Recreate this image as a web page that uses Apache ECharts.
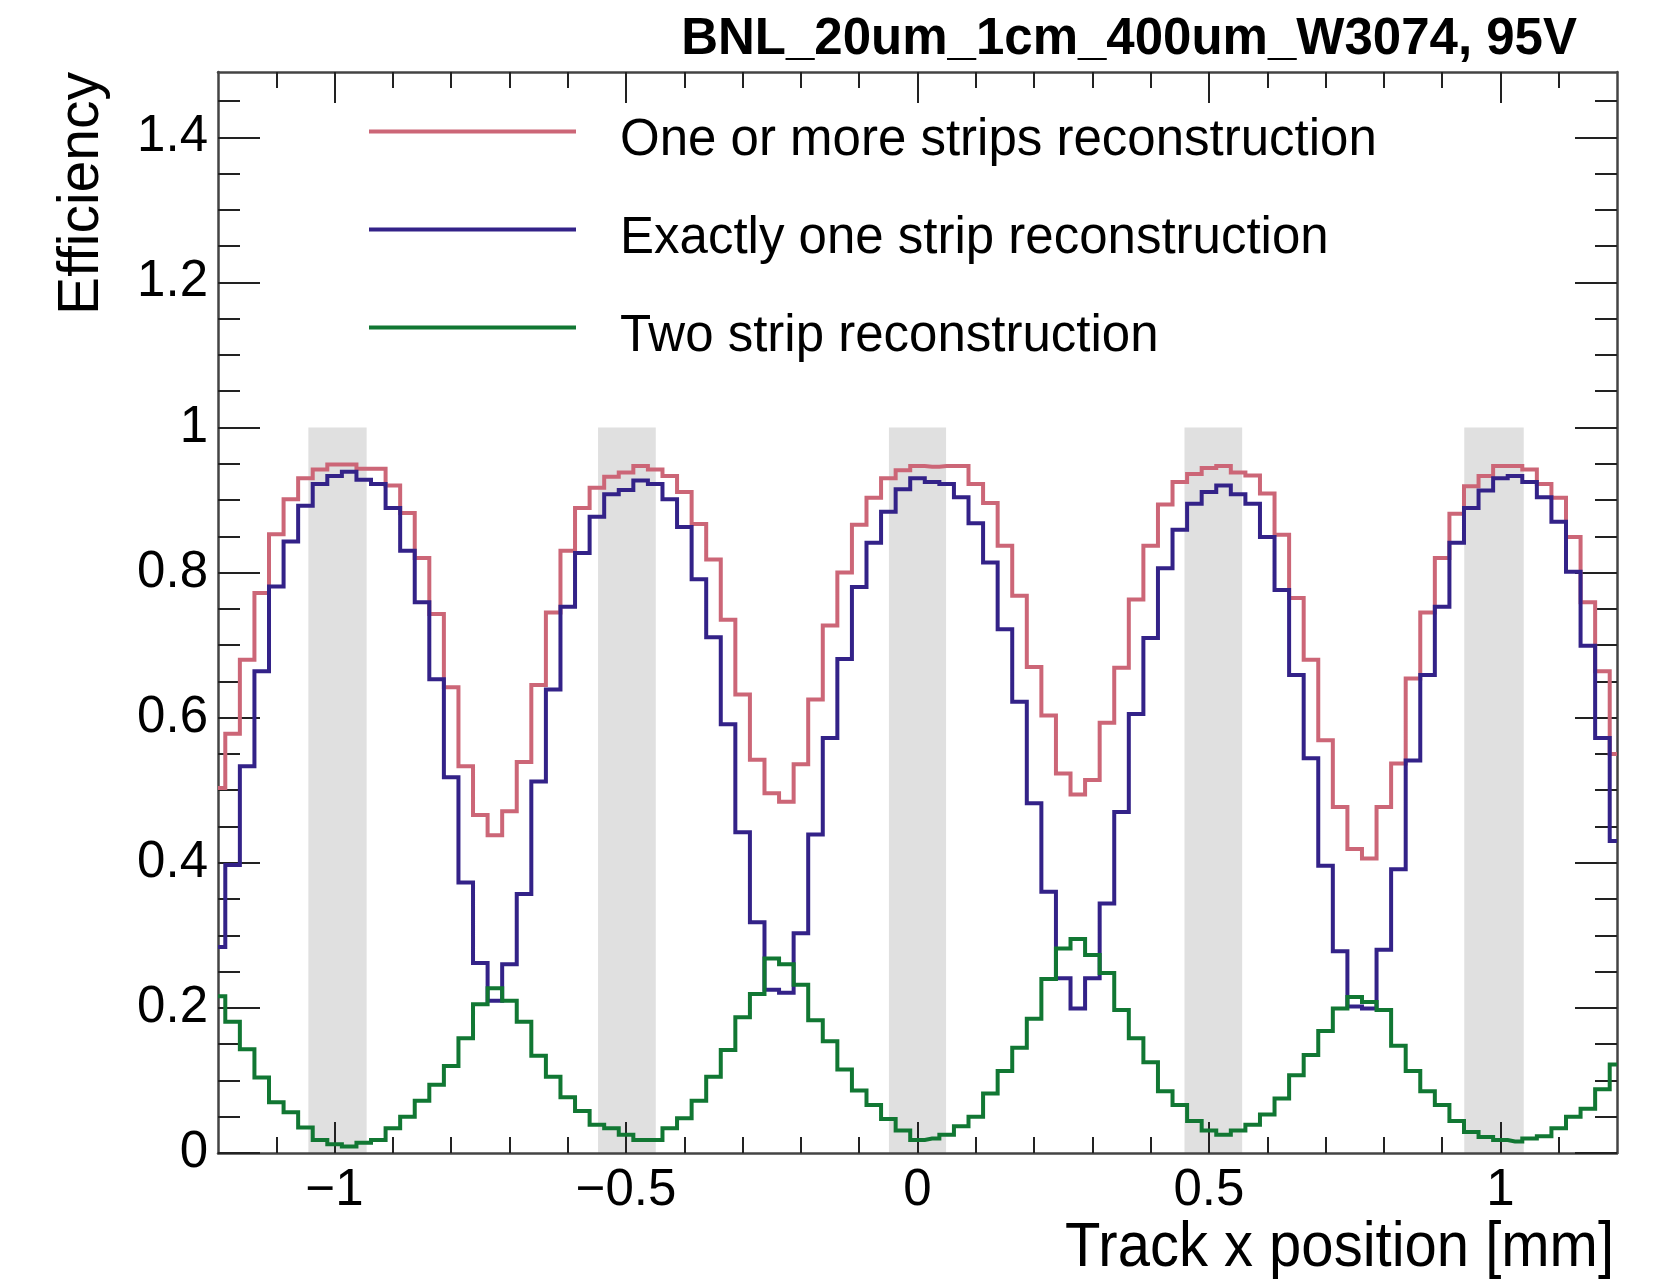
<!DOCTYPE html>
<html>
<head>
<meta charset="utf-8">
<script src="https://cdn.jsdelivr.net/npm/echarts@6/dist/echarts.min.js"></script>
<style>
  html, body { margin: 0; padding: 0; background: #ffffff; }
  #chart { width: 1654px; height: 1280px; }
</style>
</head>
<body>
<div id="chart"></div>
<script>
// Histogram binning: 97 bins of 0.025 mm, centred on -1.2 ... 1.2 mm
const binWidth = 0.025;
const firstBinCenter = -1.2;
const nBins = 97;
const binCenters = Array.from({ length: nBins }, (_, i) => +(firstBinCenter + i * binWidth).toFixed(4));

// Efficiency per bin
const oneOrMore = [
  0.503, 0.578, 0.680, 0.772, 0.853, 0.901, 0.930, 0.942, 0.949, 0.949, 0.943, 0.943, 0.920, 0.882, 0.820, 0.743, 0.642,
  0.533, 0.466, 0.438, 0.471, 0.539, 0.645, 0.745, 0.830, 0.889, 0.917, 0.932, 0.938, 0.947, 0.942, 0.933, 0.911, 0.867,
  0.818, 0.735, 0.632, 0.542, 0.496, 0.484, 0.536, 0.625, 0.727, 0.800, 0.866, 0.903, 0.930, 0.941, 0.947, 0.946,
  0.947, 0.947, 0.922, 0.896, 0.837, 0.768, 0.670, 0.603, 0.523, 0.494, 0.514, 0.593, 0.669, 0.763, 0.837, 0.894, 0.925,
  0.936, 0.944, 0.947, 0.938, 0.934, 0.909, 0.852, 0.765, 0.680, 0.569, 0.477, 0.419, 0.406, 0.477, 0.537, 0.654,
  0.745, 0.820, 0.881, 0.919, 0.933, 0.947, 0.947, 0.942, 0.922, 0.903, 0.849, 0.759, 0.664, 0.550
];
const exactlyOne = [
  0.284, 0.397, 0.533, 0.664, 0.781, 0.843, 0.892, 0.922, 0.933, 0.939, 0.928, 0.922, 0.889, 0.830, 0.759, 0.653, 0.518,
  0.373, 0.262, 0.210, 0.260, 0.357, 0.512, 0.639, 0.753, 0.827, 0.877, 0.908, 0.914, 0.927, 0.922, 0.901, 0.863, 0.791,
  0.711, 0.591, 0.442, 0.318, 0.225, 0.221, 0.303, 0.439, 0.572, 0.681, 0.780, 0.841, 0.884, 0.915, 0.930, 0.925,
  0.922, 0.904, 0.868, 0.814, 0.722, 0.622, 0.482, 0.360, 0.241, 0.199, 0.241, 0.344, 0.470, 0.605, 0.710, 0.806, 0.859,
  0.895, 0.911, 0.920, 0.908, 0.895, 0.849, 0.776, 0.659, 0.544, 0.396, 0.278, 0.202, 0.199, 0.280, 0.391, 0.541,
  0.659, 0.753, 0.841, 0.889, 0.913, 0.930, 0.933, 0.925, 0.904, 0.870, 0.801, 0.699, 0.572, 0.430
];
const twoStrip = [
  0.216, 0.181, 0.143, 0.104, 0.070, 0.056, 0.035, 0.018, 0.012, 0.009, 0.014, 0.018, 0.034, 0.050, 0.072, 0.094, 0.120,
  0.158, 0.205, 0.227, 0.210, 0.181, 0.134, 0.105, 0.077, 0.058, 0.039, 0.034, 0.025, 0.018, 0.018, 0.034, 0.048, 0.072,
  0.105, 0.142, 0.187, 0.219, 0.268, 0.260, 0.232, 0.183, 0.154, 0.115, 0.086, 0.066, 0.047, 0.031, 0.018, 0.020,
  0.025, 0.037, 0.050, 0.082, 0.113, 0.145, 0.185, 0.240, 0.282, 0.295, 0.273, 0.248, 0.197, 0.158, 0.125, 0.085, 0.066,
  0.044, 0.031, 0.025, 0.031, 0.039, 0.053, 0.075, 0.107, 0.135, 0.168, 0.199, 0.215, 0.208, 0.197, 0.148, 0.113,
  0.085, 0.066, 0.044, 0.029, 0.022, 0.018, 0.016, 0.020, 0.023, 0.034, 0.050, 0.061, 0.088, 0.122
];

// Metal strip positions [mm], drawn as grey bands up to efficiency 1
const stripLow  = [-1.045, -0.548, -0.049, 0.458, 0.938];
const stripHigh = [-0.945, -0.449,  0.049, 0.557, 1.040];

const seriesNames = [
  'One or more strips reconstruction',
  'Exactly one strip reconstruction',
  'Two strip reconstruction'
];
const seriesColors = ['#cc6677', '#332288', '#117733'];

// Axis ticks
const xMajorTicks = [-1, -0.5, 0, 0.5, 1];
const yMajorTicks = [0, 0.2, 0.4, 0.6, 0.8, 1, 1.2, 1.4];
const xMinorTicks = [];
for (let k = -11; k <= 11; k++) xMinorTicks.push(+(k / 10).toFixed(2));
const yMinorTicks = [];
for (let k = 1; k <= 29; k++) yMinorTicks.push(+(k * 0.05).toFixed(2));

const xMin = -1.2, xMax = 1.2, yMin = 0, yMax = 1.49;
const FONT = '"Liberation Sans", Arial, Helvetica, sans-serif';
const frameColor = '#444444';
const tickColor = '#222222';

// Legend key: a 4 px bar along the top of a 207 x 23 box, so the label sits slightly below it
const legendKeyIcon = 'path://M0,0L207,0L207,4L0,4Z M0,23L0.05,23L0.05,22.95Z';

function xAxisCfg(position, ticks, tickLen, withLabels, withLine) {
  return {
    type: 'value', position: position, min: xMin, max: xMax, z: 2,
    axisLine: { show: withLine, onZero: false, lineStyle: { color: frameColor, width: 2.5 } },
    axisTick: { show: true, inside: true, length: tickLen, customValues: ticks,
                lineStyle: { color: tickColor, width: 2 } },
    axisLabel: withLabels ? {
      show: true, customValues: xMajorTicks, margin: 12,
      fontSize: 51, fontFamily: FONT, color: '#000',
      formatter: v => (v < 0 ? '\u2212' + Math.abs(v) : String(v))
    } : { show: false },
    splitLine: { show: false },
    minorTick: { show: false }
  };
}
function yAxisCfg(position, ticks, tickLen, withLabels, withLine) {
  return {
    type: 'value', position: position, min: yMin, max: yMax, z: 2,
    axisLine: { show: withLine, onZero: false, lineStyle: { color: frameColor, width: 2.5 } },
    axisTick: { show: true, inside: true, length: tickLen, customValues: ticks,
                lineStyle: { color: tickColor, width: 2 } },
    axisLabel: withLabels ? {
      show: true, customValues: yMajorTicks, margin: 10,
      fontSize: 51, fontFamily: FONT, color: '#000',
      formatter: v => String(+v.toFixed(2))
    } : { show: false },
    splitLine: { show: false },
    minorTick: { show: false }
  };
}

const histSeries = [oneOrMore, exactlyOne, twoStrip].map((vals, s) => ({
  name: seriesNames[s],
  type: 'line',
  step: 'middle',
  xAxisIndex: 0, yAxisIndex: 0,
  showSymbol: false,
  symbol: 'none',
  z: 3,
  silent: true,
  color: seriesColors[s],
  itemStyle: { color: seriesColors[s] },
  lineStyle: { color: seriesColors[s], width: 4, join: 'miter', cap: 'butt' },
  data: binCenters.map((x, i) => [x, vals[i]])
}));

const chart = echarts.init(document.getElementById('chart'), null, { renderer: 'canvas' });
chart.setOption({
  animation: false,
  backgroundColor: '#ffffff',
  grid: { left: 218, right: 37, top: 72, bottom: 127, containLabel: false },
  xAxis: [
    xAxisCfg('bottom', xMajorTicks, 31, true, true),
    xAxisCfg('bottom', xMinorTicks, 16, false, false),
    xAxisCfg('top', xMajorTicks, 31, false, true),
    xAxisCfg('top', xMinorTicks, 16, false, false)
  ],
  yAxis: [
    yAxisCfg('left', yMajorTicks, 42, true, true),
    yAxisCfg('left', yMinorTicks, 22, false, false),
    yAxisCfg('right', yMajorTicks, 42, false, true),
    yAxisCfg('right', yMinorTicks, 22, false, false)
  ],
  legend: {
    data: seriesNames,
    orient: 'vertical',
    left: 369, top: 111,
    padding: 0,
    itemGap: 38,
    itemWidth: 207, itemHeight: 23,
    icon: legendKeyIcon,
    selectedMode: false,
    textStyle: { fontSize: 51, fontFamily: FONT, color: '#000', lineHeight: 60, padding: [0, 0, 0, 39] }
  },
  series: [
    {
      name: 'strips', type: 'line', data: [], z: 1, silent: true,
      xAxisIndex: 0, yAxisIndex: 0,
      markArea: {
        silent: true,
        itemStyle: { color: '#e0e0e0' },
        data: stripLow.map((lo, i) => [{ xAxis: lo, yAxis: 0 }, { xAxis: stripHigh[i], yAxis: 1 }])
      }
    },
    ...histSeries
  ],
  graphic: [
    {
      type: 'text', x: 1577, y: 40, silent: true,
      style: { text: 'BNL_20um_1cm_400um_W3074, 95V', fontSize: 51, fontWeight: 'bold', fontFamily: FONT,
               fill: '#000', textAlign: 'right', textVerticalAlign: 'middle', align: 'right', verticalAlign: 'middle' }
    },
    {
      type: 'text', x: 1614, y: 1249, scaleY: 1.07, silent: true,
      style: { text: 'Track x position [mm]', fontSize: 58, fontFamily: FONT,
               fill: '#000', textAlign: 'right', textVerticalAlign: 'middle', align: 'right', verticalAlign: 'middle' }
    },
    {
      type: 'text', x: 82, y: 72, rotation: Math.PI / 2, silent: true,
      style: { text: 'Efficiency', fontSize: 57, fontFamily: FONT,
               fill: '#000', textAlign: 'right', textVerticalAlign: 'middle', align: 'right', verticalAlign: 'middle' }
    }
  ]
});
</script>
</body>
</html>
